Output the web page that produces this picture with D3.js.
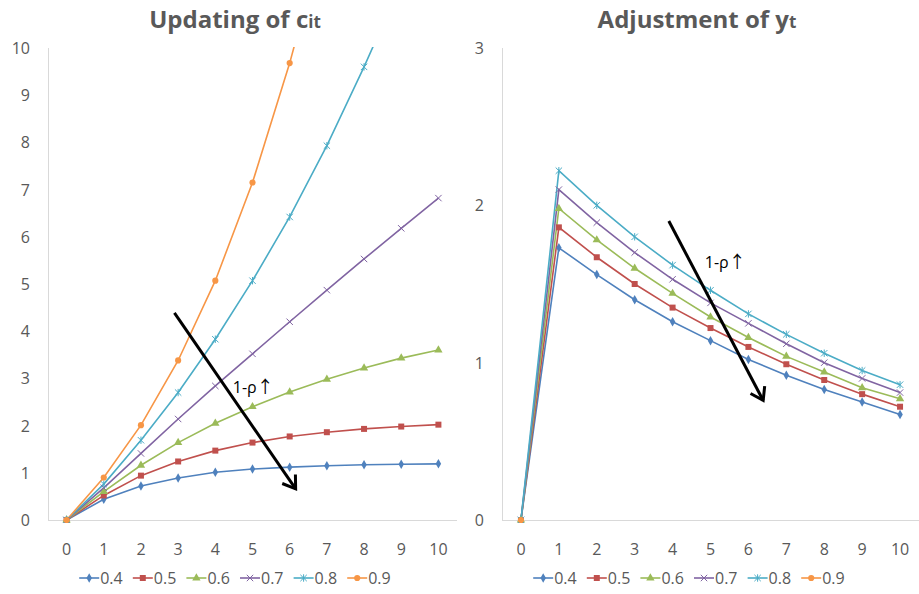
<!DOCTYPE html>
<html><head><meta charset="utf-8">
<script src="https://cdn.jsdelivr.net/npm/d3@7"></script>
<style>body{margin:0;background:#fff}svg{display:block}text{font-family:"Open Sans",sans-serif}</style>
</head><body><svg id="c" width="919" height="594"></svg>
<script>
const periods = [0,1,2,3,4,5,6,7,8,9,10];
const seriesNames = ["0.4","0.5","0.6","0.7","0.8","0.9"];
const leftValues = [
  [0,0.44,0.72,0.89,1.01,1.08,1.12,1.15,1.17,1.18,1.19],
  [0,0.52,0.94,1.24,1.47,1.64,1.77,1.86,1.93,1.98,2.02],
  [0,0.60,1.16,1.64,2.05,2.40,2.71,2.98,3.22,3.43,3.60],
  [0,0.68,1.41,2.14,2.84,3.52,4.20,4.87,5.53,6.18,6.82],
  [0,0.76,1.69,2.70,3.83,5.07,6.42,7.93,9.60,11.37,13.3],
  [0,0.90,2.01,3.38,5.07,7.15,9.68,12.6,16.0,20.0,24.5]
];
const rightValues = [
  [0,1.73,1.56,1.40,1.26,1.14,1.02,0.92,0.83,0.75,0.67],
  [0,1.86,1.67,1.50,1.35,1.22,1.10,0.99,0.89,0.80,0.72],
  [0,1.98,1.78,1.60,1.44,1.29,1.16,1.04,0.94,0.84,0.77],
  [0,2.10,1.89,1.70,1.53,1.38,1.25,1.12,1.00,0.90,0.81],
  [0,2.22,2.00,1.80,1.62,1.46,1.31,1.18,1.06,0.95,0.86],
  [0,null,null,null,null,null,null,null,null,null,null]
];
const leftTicks = [0,1,2,3,4,5,6,7,8,9,10];
const rightTicks = [0,1,2,3];
const leftArrow = {x1:2.9, y1:4.39, x2:6.16, y2:0.66, tx:4.47, ty:2.7};
const rightArrow = {x1:3.9, y1:1.90, x2:6.39, y2:0.76, tx:4.85, ty:1.60};
const annotText = ["1-ρ","↑"];

const colors = ["#4f81bd","#c0504d","#9bbb59","#8064a2","#4bacc6","#f79646"];
const shapes = ["diamond","square","triangle","x","star","circle"];
const svg = d3.select("#c");
const defs = svg.append("defs");
defs.append("marker").attr("id","ah").attr("markerUnits","userSpaceOnUse")
  .attr("markerWidth",30).attr("markerHeight",30).attr("refX",15).attr("refY",15)
  .attr("orient","auto").append("path").attr("d","M3,7 L15,15 L3,23")
  .attr("fill","none").attr("stroke","#000").attr("stroke-width",3);

function drawMarker(g, shape, color, x, y){
  const s = 3.2;
  if(shape==="x"||shape==="star"){
    let d = `M${x-s},${y-s}L${x+s},${y+s}M${x-s},${y+s}L${x+s},${y-s}`;
    if(shape==="star") d += `M${x},${y-s-0.5}L${x},${y+s+0.5}`;
    g.append("path").attr("d",d).attr("stroke",color).attr("stroke-width",1).attr("fill","none");
  } else {
    const t = {diamond:d3.symbolDiamond, square:d3.symbolSquare, triangle:d3.symbolTriangle, circle:d3.symbolCircle}[shape];
    const size = {diamond:26, square:36, triangle:30, circle:30}[shape];
    g.append("path").attr("d",d3.symbol(t,size)()).attr("transform",`translate(${x},${y})`).attr("fill",color);
  }
}

function panel(opt){
  const g = svg.append("g");
  const x = d3.scaleBand().domain(periods).range([opt.left,opt.right]);
  const xc = d => x(d)+x.bandwidth()/2;
  const y = d3.scaleLinear().domain(opt.yDomain).range([520,48]);
  const clipId = "clip"+opt.id;
  defs.append("clipPath").attr("id",clipId).append("rect")
    .attr("x",opt.left).attr("y",47).attr("width",opt.right-opt.left).attr("height",476);
  g.append("line").attr("x1",opt.left+0.5).attr("x2",opt.left+0.5).attr("y1",48).attr("y2",520).attr("stroke","#d9d9d9");
  g.append("line").attr("x1",opt.left).attr("x2",opt.right).attr("y1",520.5).attr("y2",520.5).attr("stroke","#d9d9d9");
  g.selectAll(".yt").data(opt.yTicks).join("text").attr("x",opt.yLabelX).attr("y",d=>y(d)+6)
    .attr("text-anchor","end").attr("font-size",16).attr("fill","#595959").text(d=>d);
  g.selectAll(".xt").data(periods).join("text").attr("x",d=>xc(d)).attr("y",555)
    .attr("text-anchor","middle").attr("font-size",16).attr("fill","#595959").text(d=>d);
  const t = g.append("text").attr("x",opt.titleX).attr("y",28).attr("text-anchor","middle")
    .attr("fill","#595959").attr("font-weight","bold");
  t.append("tspan").attr("font-size",24).text(opt.title[0]);
  t.append("tspan").attr("font-size",24).text(opt.title[1]);
  t.append("tspan").attr("font-size",17).text(opt.title[2]);
  const pg = g.append("g").attr("clip-path",`url(#${clipId})`);
  const line = d3.line().defined(d=>d[1]!==null).x(d=>xc(d[0])).y(d=>y(d[1]));
  opt.values.forEach((vals,i)=>{
    const pts = periods.map((p,j)=>[p,vals[j]]);
    pg.append("path").attr("d",line(pts)).attr("fill","none").attr("stroke",colors[i]).attr("stroke-width",1.6);
  });
  opt.values.forEach((vals,i)=>{
    periods.forEach((p,j)=>{ if(vals[j]!==null) drawMarker(pg,shapes[i],colors[i],xc(p),y(vals[j])); });
  });
  const a = opt.arrow;
  g.append("line").attr("x1",xc(0)+a.x1*x.step()).attr("y1",y(a.y1))
    .attr("x2",xc(0)+a.x2*x.step()).attr("y2",y(a.y2))
    .attr("stroke","#000").attr("stroke-width",3).attr("marker-end","url(#ah)");
  const at = g.append("text").attr("x",xc(0)+a.tx*x.step()).attr("y",y(a.ty)).attr("font-size",16).attr("fill","#000");
  at.append("tspan").text(annotText[0]);
  at.append("tspan").attr("font-family","'Noto Sans CJK SC'").attr("font-size",17).text(annotText[1]);
  const lg = g.append("g");
  const itemW = 53.6;
  const startX = opt.legendX - itemW*seriesNames.length/2;
  seriesNames.forEach((n,i)=>{
    const lx = startX + i*itemW;
    lg.append("line").attr("x1",lx).attr("x2",lx+20).attr("y1",578).attr("y2",578).attr("stroke",colors[i]).attr("stroke-width",1.6);
    drawMarker(lg,shapes[i],colors[i],lx+10,578);
    lg.append("text").attr("x",lx+21).attr("y",584).attr("font-size",16).attr("fill","#595959").text(n);
  });
}

panel({id:"L", left:48, right:457, yDomain:[0,10], yTicks:leftTicks, yLabelX:30,
  values:leftValues, title:["Updating of ","c","it"], titleX:235, arrow:leftArrow, legendX:240});
panel({id:"R", left:502, right:919, yDomain:[0,3], yTicks:rightTicks, yLabelX:484,
  values:rightValues, title:["Adjustment of ","y","t"], titleX:697, arrow:rightArrow, legendX:694});
</script></body></html>
